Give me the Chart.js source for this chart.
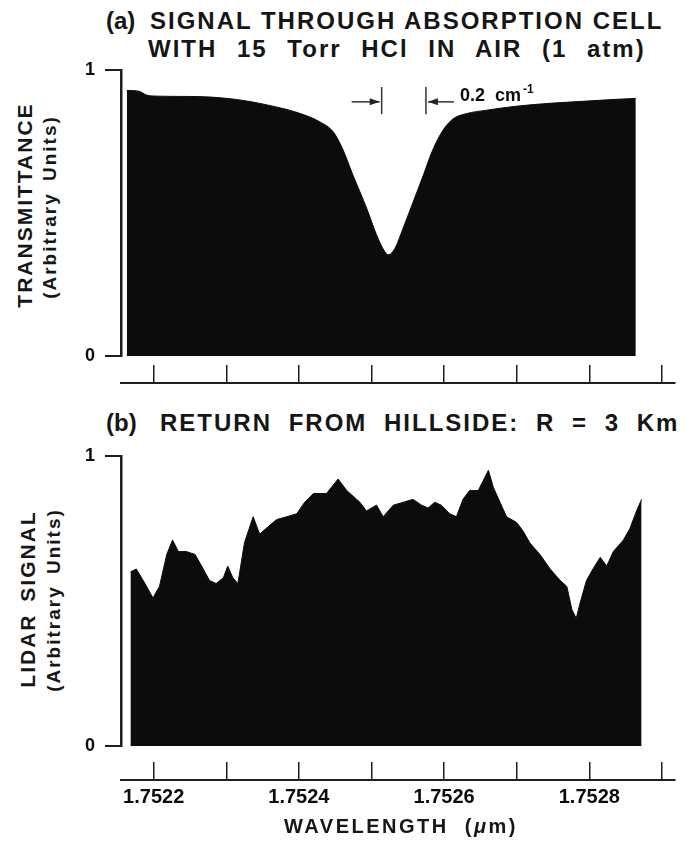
<!DOCTYPE html>
<html>
<head>
<meta charset="utf-8">
<script src="https://cdn.jsdelivr.net/npm/chart.js@4.4.1/dist/chart.umd.min.js"></script>
<style>
  body { margin: 0; width: 699px; height: 842px; position: relative; overflow: hidden; background: #fff;
         font-family: "Liberation Sans", Arial, sans-serif; color: #161616; }
  canvas { position: absolute; left: 0; }
  .t { position: absolute; font-weight: bold; white-space: nowrap; line-height: 1; }
  .rot { position: absolute; font-weight: bold; white-space: nowrap; line-height: 1;
         transform: translate(-50%, -50%) rotate(-90deg); }
</style>
</head>
<body>

<div class="t" style="left:106px;top:9px;font-size:24px">(a)</div>
<div class="t" style="left:150px;top:9px;font-size:24px;letter-spacing:2px">SIGNAL THROUGH ABSORPTION CELL</div>
<div class="t" style="left:148px;top:37px;font-size:24px;letter-spacing:2px;word-spacing:11px">WITH 15 Torr HCl IN AIR (1 atm)</div>

<div class="rot" style="left:24px;top:205px;font-size:21px;letter-spacing:2px">TRANSMITTANCE</div>
<div class="rot" style="left:49px;top:207px;font-size:19px;letter-spacing:2px;word-spacing:4px">(Arbitrary Units)</div>

<canvas id="chartCell" width="699" height="349" style="top:49px"></canvas>

<div class="t" style="left:106px;top:411px;font-size:24px">(b)</div>
<div class="t" style="left:160px;top:411px;font-size:24px;letter-spacing:2px;word-spacing:8px">RETURN FROM HILLSIDE: R = 3 Km</div>

<div class="rot" style="left:27px;top:599px;font-size:21px;letter-spacing:2px;word-spacing:4px">LIDAR SIGNAL</div>
<div class="rot" style="left:53px;top:600px;font-size:19px;letter-spacing:2px;word-spacing:4px">(Arbitrary Units)</div>

<canvas id="chartHill" width="699" height="407" style="top:435px"></canvas>

<div class="t" style="left:401px;top:816px;font-size:20px;letter-spacing:2.5px;word-spacing:8px;transform:translateX(-50%)">WAVELENGTH (<i>μ</i>m)</div>

<script>
// ===== DADOS =====
const WL_MIN = 1.752155;
const WL_MAX = 1.752918;
const WL_TICKS  = [1.7522, 1.7523, 1.7524, 1.7525, 1.7526, 1.7527, 1.7528, 1.7529];
const WL_LABELS = ['1.7522', '', '1.7524', '', '1.7526', '', '1.7528', ''];
const Y_TICKS = [0, 1];

// (a) cell transmittance
const CELL_WL = [1.752163, 1.752180, 1.752190, 1.752205, 1.752240, 1.752277, 1.752323, 1.752369,
                 1.752401, 1.752429, 1.752447, 1.752460, 1.752474, 1.752494, 1.752507, 1.752518,
                 1.752523, 1.752532, 1.752543, 1.752557, 1.752571, 1.752584, 1.752598, 1.752612,
                 1.752631, 1.752659, 1.752700, 1.752746, 1.752791, 1.752838, 1.752864];
const CELL_T  = [0.928, 0.925, 0.912, 0.908, 0.907, 0.905, 0.893, 0.870,
                 0.848, 0.818, 0.784, 0.725, 0.635, 0.512, 0.423, 0.366,
                 0.354, 0.375, 0.443, 0.536, 0.629, 0.718, 0.787, 0.828,
                 0.847, 0.859, 0.873, 0.883, 0.890, 0.897, 0.900];

// (b) hillside return, R = 3 km
const HILL_WL = [1.752168, 1.752176, 1.752188, 1.752199, 1.752208, 1.752218, 1.752226, 1.752234,
                 1.752245, 1.752257, 1.752266, 1.752277, 1.752286, 1.752296, 1.752302, 1.752309,
                 1.752316, 1.752325, 1.752337, 1.752346, 1.752355, 1.752369, 1.752383, 1.752397,
                 1.752408, 1.752420, 1.752438, 1.752454, 1.752466, 1.752484, 1.752493, 1.752507,
                 1.752516, 1.752530, 1.752544, 1.752557, 1.752569, 1.752578, 1.752587, 1.752596,
                 1.752608, 1.752617, 1.752626, 1.752635, 1.752647, 1.752661, 1.752668, 1.752677,
                 1.752686, 1.752700, 1.752709, 1.752718, 1.752732, 1.752746, 1.752760, 1.752769,
                 1.752776, 1.752782, 1.752787, 1.752796, 1.752805, 1.752815, 1.752824, 1.752833,
                 1.752847, 1.752856, 1.752865, 1.752872];
const HILL_S  = [0.60, 0.61, 0.56, 0.51, 0.55, 0.66, 0.71, 0.67,
                 0.67, 0.66, 0.62, 0.57, 0.56, 0.58, 0.62, 0.58,
                 0.56, 0.70, 0.79, 0.73, 0.75, 0.78, 0.79, 0.80,
                 0.84, 0.87, 0.87, 0.92, 0.88, 0.84, 0.81, 0.83,
                 0.79, 0.83, 0.84, 0.85, 0.83, 0.82, 0.84, 0.83,
                 0.80, 0.79, 0.85, 0.88, 0.88, 0.95, 0.89, 0.84,
                 0.79, 0.77, 0.74, 0.70, 0.66, 0.61, 0.57, 0.55,
                 0.47, 0.44, 0.49, 0.57, 0.61, 0.65, 0.62, 0.67,
                 0.71, 0.75, 0.81, 0.85];

// 0.2 cm-1 resolution bracket, in wavelength
const MARK_WL = [1.752514, 1.752575];

// ===== ESTILO =====
const INK  = '#0c0c0c';
const AXIS = '#1e1e1e';
Chart.defaults.font.family = '"Liberation Sans", Arial, sans-serif';
Chart.defaults.color = INK;

// arrow along y, from x0 to the tip at x1
function seta(ctx, x0, x1, y) {
  const dir = Math.sign(x1 - x0);
  ctx.beginPath();
  ctx.moveTo(x0, y);
  ctx.lineTo(x1, y);
  ctx.stroke();
  ctx.beginPath();
  ctx.moveTo(x1, y);
  ctx.lineTo(x1 - dir * 10, y - 3.5);
  ctx.lineTo(x1 - dir * 10, y + 3.5);
  ctx.closePath();
  ctx.fill();
}

const bracketPlugin = {
  id: 'bracket',
  afterDatasetsDraw(chart) {
    const { ctx, scales: { x, y } } = chart;
    const xl = x.getPixelForValue(MARK_WL[0]);
    const xr = x.getPixelForValue(MARK_WL[1]);
    const yTop = y.getPixelForValue(0.94);
    const yBot = y.getPixelForValue(0.845);
    const yArr = y.getPixelForValue(0.888);
    ctx.save();
    ctx.strokeStyle = '#333';
    ctx.fillStyle = '#222';
    ctx.lineWidth = 1.5;
    [xl, xr].forEach(px => {
      ctx.beginPath();
      ctx.moveTo(px, yTop);
      ctx.lineTo(px, yBot);
      ctx.stroke();
    });
    seta(ctx, xl - 30, xl - 2, yArr);
    seta(ctx, xr + 28, xr + 2, yArr);

    ctx.fillStyle = INK;
    ctx.textBaseline = 'alphabetic';
    ctx.font = 'bold 18px "Liberation Sans"';
    const base = yTop + 14;
    const txt = '0.2  cm';
    ctx.fillText(txt, xr + 34, base);
    const w = ctx.measureText(txt).width;
    ctx.font = 'bold 12px "Liberation Sans"';
    ctx.fillText('-1', xr + 36 + w, base - 8);
    ctx.restore();
  }
};

// ===== GRAFICO =====
function criarGrafico(id, wl, vals, cfg) {
  const pontos = wl.map((w, i) => ({ x: w, y: vals[i] }));
  return new Chart(document.getElementById(id), {
    type: 'line',
    data: {
      datasets: [{
        data: pontos,
        xAxisID: 'x',
        yAxisID: 'y',
        borderColor: INK,
        backgroundColor: INK,
        borderWidth: 1,
        pointRadius: 0,
        fill: 'origin',
        tension: cfg.suave ? 0.4 : 0,
        cubicInterpolationMode: cfg.suave ? 'monotone' : 'default',
      }]
    },
    options: {
      responsive: false,
      animation: false,
      events: [],
      layout: { padding: { left: 80, right: 24, top: 15, bottom: cfg.padBottom } },
      plugins: { legend: { display: false }, tooltip: { enabled: false } },
      scales: {
        x: {
          type: 'linear',
          position: 'bottom',
          weight: 1,
          min: WL_MIN,
          max: WL_MAX,
          afterBuildTicks: s => { s.ticks = WL_TICKS.map(v => ({ value: v })); },
          afterFit: s => { s.height = cfg.xHeight; },
          grid: { drawOnChartArea: false, drawTicks: true, tickLength: -18, color: AXIS, lineWidth: 1.5 },
          border: { display: true, color: AXIS, width: 2 },
          ticks: {
            display: cfg.rotulos,
            autoSkip: false,
            maxRotation: 0,
            padding: 23,
            color: INK,
            font: { size: 20, weight: 'bold' },
            callback: (v, i) => WL_LABELS[i],
          }
        },
        // empty band that keeps the wavelength axis away from the trace
        gap: {
          type: 'linear',
          axis: 'x',
          position: 'bottom',
          weight: 0,
          grid: { display: false },
          border: { display: false },
          ticks: { display: false },
          afterFit: s => { s.height = cfg.gap; },
        },
        y: {
          type: 'linear',
          position: 'left',
          min: 0,
          max: 1,
          afterBuildTicks: s => { s.ticks = Y_TICKS.map(v => ({ value: v })); },
          afterFit: s => { s.width = 41; },
          grid: { drawOnChartArea: false, tickLength: 16, color: AXIS, lineWidth: 2 },
          border: { color: AXIS, width: 2.5 },
          ticks: { padding: 10, color: INK, font: { size: 18, weight: 'bold' } }
        }
      }
    },
    plugins: cfg.plugins || []
  });
}

// ===== INIT =====
criarGrafico('chartCell', CELL_WL, CELL_T, { suave: true, rotulos: false, gap: 27, xHeight: 10, padBottom: 5, plugins: [bracketPlugin] });
criarGrafico('chartHill', HILL_WL, HILL_S, { suave: false, rotulos: true, gap: 34, xHeight: 50, padBottom: 12 });
</script>
</body>
</html>
